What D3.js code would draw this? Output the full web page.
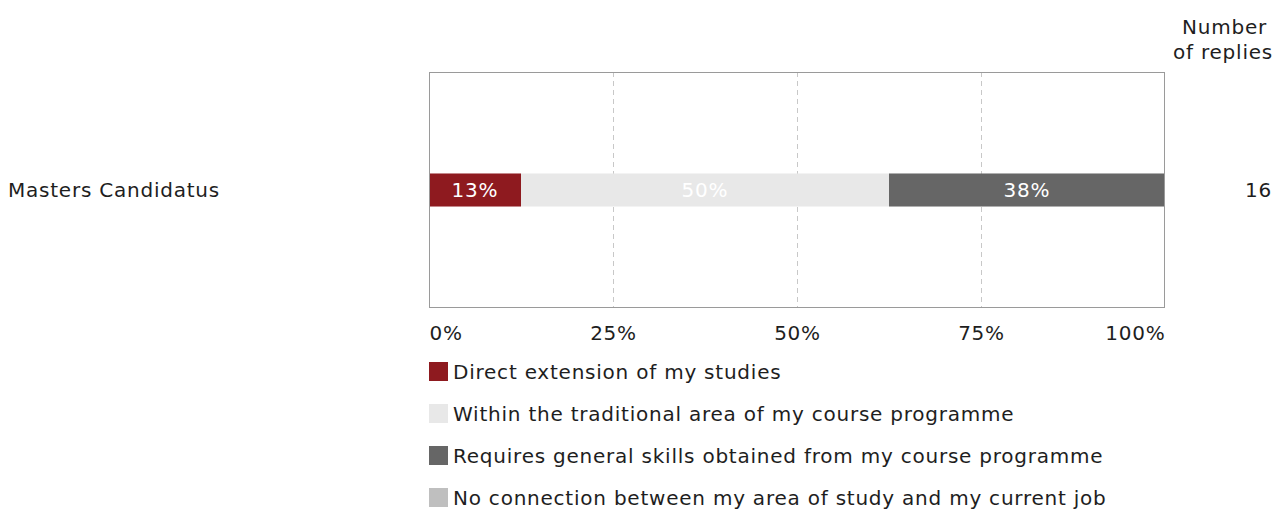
<!DOCTYPE html>
<html>
<head>
<meta charset="utf-8">
<script src="https://cdn.jsdelivr.net/npm/d3@7"></script>
<style>
  body { margin: 0; background: #fff; }
  text { font-family: "DejaVu Sans", Verdana, sans-serif; font-size: 20px; letter-spacing: 0.77px; fill: #1e1e1e; }
</style>
</head>
<body>
<svg id="chart" width="1276" height="509"></svg>
<script>
  // data
  const categories = ["Masters Candidatus"];
  const seriesNames = [
    "Direct extension of my studies",
    "Within the traditional area of my course programme",
    "Requires general skills obtained from my course programme",
    "No connection between my area of study and my current job"
  ];
  const seriesColors = ["#8e1a1f", "#e8e8e8", "#666666", "#bfbfbf"];
  const seriesLabelColors = ["#fff", "#fff", "#fff", "#fff"];
  // share of replies per series (per category)
  const seriesValues = [[0.125], [0.5], [0.375], [0]];
  const replies = [16];
  const tickValues = [0, 0.25, 0.5, 0.75, 1];
  const tickLabels = ["0%", "25%", "50%", "75%", "100%"];

  const svg = d3.select("#chart");
  const plot = { left: 429, right: 1165, top: 72, bottom: 308 };

  const x = d3.scaleLinear().domain([0, 1]).range([plot.left, plot.right]);
  const y = d3.scaleBand().domain(categories).range([plot.top, plot.bottom]).paddingInner(0.86).paddingOuter(0.43);

  // grid lines
  svg.append("g").selectAll("line")
    .data(tickValues.slice(1, -1))
    .enter().append("line")
    .attr("x1", d => Math.round(x(d)) + 0.5).attr("x2", d => Math.round(x(d)) + 0.5)
    .attr("y1", plot.top).attr("y2", plot.bottom)
    .attr("stroke", "#c8c8c8").attr("stroke-dasharray", "5,4");

  // stacked rows
  const rows = categories.map((c, i) => {
    let acc = 0;
    return seriesValues.map((vals, s) => {
      const seg = { cat: c, s, x0: acc, x1: acc + vals[i] };
      acc += vals[i];
      return seg;
    });
  }).flat().filter(d => d.x1 > d.x0);

  const segs = svg.append("g").selectAll("g").data(rows).enter().append("g");
  segs.append("rect")
    .attr("x", d => x(d.x0)).attr("width", d => x(d.x1) - x(d.x0))
    .attr("y", d => y(d.cat)).attr("height", y.bandwidth())
    .attr("fill", d => seriesColors[d.s]);
  segs.append("text")
    .attr("x", d => (x(d.x0) + x(d.x1)) / 2)
    .attr("y", d => y(d.cat) + y.bandwidth() / 2)
    .attr("dy", "0.36em").attr("text-anchor", "middle")
    .style("fill", d => seriesLabelColors[d.s])
    .text(d => Math.round((d.x1 - d.x0) * 100) + "%");

  // frame
  svg.append("rect")
    .attr("x", plot.left + 0.5).attr("y", plot.top + 0.5)
    .attr("width", plot.right - plot.left - 1).attr("height", plot.bottom - plot.top - 1)
    .attr("fill", "none").attr("stroke", "#9a9a9a");

  // category labels
  svg.append("g").selectAll("text").data(categories).enter().append("text")
    .attr("x", 8).attr("y", d => y(d) + y.bandwidth() / 2).attr("dy", "0.36em")
    .text(d => d);

  // number of replies
  svg.append("text").attr("x", 1267).attr("y", 34).attr("text-anchor", "end").text("Number");
  svg.append("text").attr("x", 1273).attr("y", 59).attr("text-anchor", "end").text("of replies");
  svg.append("g").selectAll("text").data(categories).enter().append("text")
    .attr("x", 1272).attr("y", d => y(d) + y.bandwidth() / 2).attr("dy", "0.36em")
    .attr("text-anchor", "end")
    .text((d, i) => replies[i]);

  // x axis labels
  const axis = d3.axisBottom(x).tickValues(tickValues).tickSize(0).tickPadding(18)
    .tickFormat((d, i) => tickLabels[i]);
  const ax = svg.append("g").attr("transform", `translate(0,${plot.bottom})`).call(axis);
  ax.select(".domain").remove();
  ax.attr("font-size", null).attr("font-family", null);
  ax.selectAll("text")
    .attr("text-anchor", (d, i) => i === 0 ? "start" : i === tickValues.length - 1 ? "end" : "middle");

  // legend
  const legend = svg.append("g").selectAll("g").data(seriesNames).enter().append("g")
    .attr("transform", (d, i) => `translate(${plot.left},${362 + i * 42})`);
  legend.append("rect").attr("width", 19).attr("height", 19).attr("fill", (d, i) => seriesColors[i]);
  legend.append("text").attr("x", 24).attr("y", 10).attr("dy", "0.36em").text(d => d);
</script>
</body>
</html>
